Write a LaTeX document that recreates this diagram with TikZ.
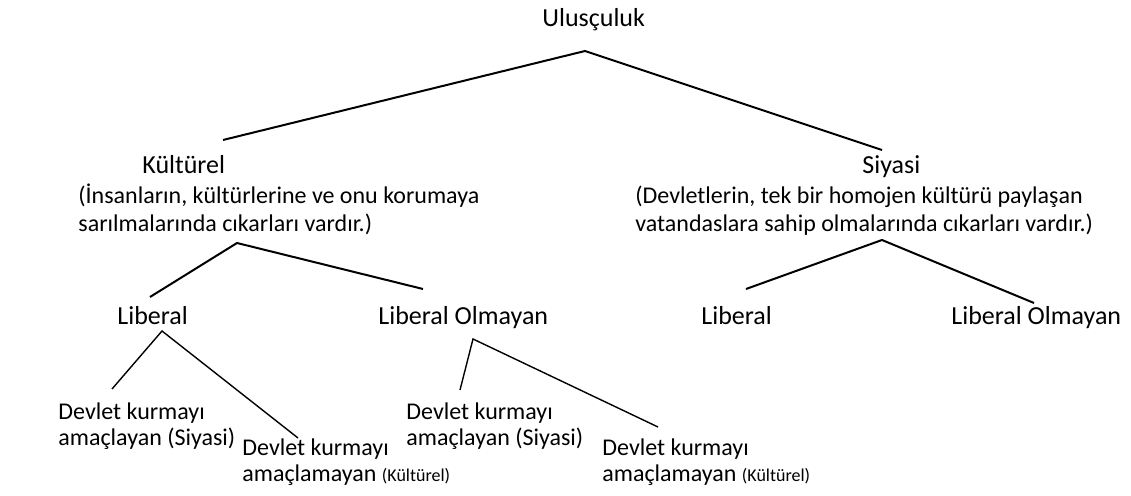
\documentclass[tikz,border=0pt]{standalone}
\usepackage{fontspec}
\setmainfont{Carlito}

\begin{document}
\begin{tikzpicture}[
    x=0.5pt, y=-0.5pt,
    head/.style={font=\fontsize{13}{15.6}\selectfont, inner sep=0pt, anchor=base west},
    desc/.style={font=\fontsize{12}{14}\selectfont, inner sep=0pt, anchor=base west, align=left},
    leaf/.style={font=\fontsize{12}{13}\selectfont, inner sep=0pt, anchor=base west, align=left},
    small/.style={font=\fontsize{9.5}{11}\selectfont},
    branch/.style={line width=1pt},
    twig/.style={line width=0.7pt},
  ]
  \useasboundingbox (0,0) rectangle (1131,496);

  % top level
  \node[head] (ulus) at (542,27) {Ulusçuluk};
  \node[head] (kul) at (142,174) {Kültürel};
  \node[desc] (kuld) at (78,232) {(İnsanların, kültürlerine ve onu korumaya\\sarılmalarında cıkarları vardır.)};
  \node[head] (siy) at (862,174) {Siyasi};
  \node[desc] (siyd) at (635,232) {(Devletlerin, tek bir homojen kültürü paylaşan\\vatandaslara sahip olmalarında cıkarları vardır.)};

  \coordinate (f0) at (585,51);
  \coordinate (kul-top) at (223,140);
  \coordinate (siy-top) at (882,150);
  \draw[branch] (kul-top) -- (f0) -- (siy-top);

  % second level
  \node[head] (klib) at (117,325) {Liberal};
  \node[head] (kolm) at (378,325) {Liberal Olmayan};
  \node[head] (slib) at (701,325) {Liberal};
  \node[head] (solm) at (951,325) {Liberal Olmayan};

  \coordinate (f1) at (237,243);
  \coordinate (klib-top) at (150,297);
  \coordinate (kolm-top) at (423,289);
  \draw[branch] (klib-top) -- (f1) -- (kolm-top);

  \coordinate (f2) at (882,240);
  \coordinate (slib-top) at (746,289);
  \coordinate (solm-top) at (1034,303);
  \draw[branch] (slib-top) -- (f2) -- (solm-top);

  % third level
  \node[leaf] (d1) at (58,446) {Devlet kurmayı\\amaçlayan (Siyasi)};
  \node[leaf] (d2) at (242,482) {Devlet kurmayı\\amaçlamayan {\small(Kültürel)}};
  \node[leaf] (d3) at (406,446) {Devlet kurmayı\\amaçlayan (Siyasi)};
  \node[leaf] (d4) at (602,482) {Devlet kurmayı\\amaçlamayan {\small(Kültürel)}};

  \coordinate (f3) at (162,331);
  \coordinate (d1-top) at (112,389);
  \coordinate (d2-top) at (298,438);
  \draw[twig] (d1-top) -- (f3) -- (d2-top);

  \coordinate (f4) at (473,339);
  \coordinate (d3-top) at (460,390);
  \coordinate (d4-top) at (658,427);
  \draw[twig] (d3-top) -- (f4) -- (d4-top);

\end{tikzpicture}
\end{document}
